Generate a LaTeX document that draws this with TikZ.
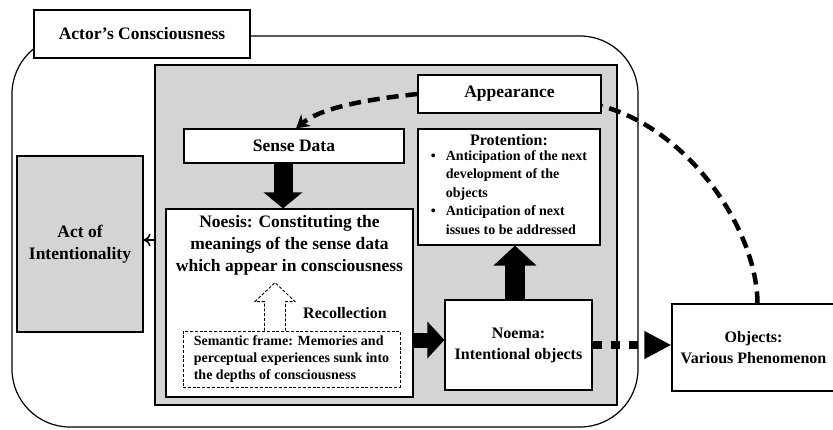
\documentclass[tikz,border=0pt]{standalone}
\usepackage{fontspec}
\setmainfont{Liberation Serif}
\usepackage{tikz}
\usetikzlibrary{arrows.meta,positioning}

\begin{document}
\begin{tikzpicture}[x=1pt,y=-1pt,
  box/.style={draw,line width=1.2pt,fill=white,align=center,inner sep=3pt},
  graybox/.style={draw,line width=1.2pt,fill=black!17,align=center},
  bigfont/.style={font=\fontsize{17.5}{22}\selectfont\bfseries},
  midfont/.style={font=\fontsize{16}{21}\selectfont\bfseries},
  smallfont/.style={font=\fontsize{14}{17}\selectfont\bfseries},
  thindash/.style={line width=0.9pt,dash pattern=on 3pt off 1.8pt},
  dashlink/.style={line width=4.5pt,dash pattern=on 12pt off 7pt}]
\useasboundingbox (0,0) rectangle (833,429);

% outer frame of the actor
\draw[line width=1.2pt,rounded corners=58pt] (12,36) rectangle (638,427);
\node[box,bigfont,minimum width=216,minimum height=48] (actor) at (142,34) {Actor's Consciousness};

\node[graybox,line width=2pt,minimum width=462,minimum height=340] (panel) at (386,235) {};
\node[graybox,bigfont,minimum width=126,minimum height=176] (act) at (80,244) {Act of\\Intentionality};

\node[box,bigfont,minimum width=183,minimum height=38] (appearance) at (509.5,94) {Appearance};
\node[box,bigfont,minimum width=220,minimum height=34] (sensedata) at (294,146) {Sense Data};
\node[box,smallfont,minimum width=182,minimum height=116] (protention) at (509,187)
  {{\fontsize{16}{18}\selectfont Protention:}\\[1pt]
   \setlength{\tabcolsep}{0pt}\renewcommand{\arraystretch}{1.08}%
   \begin{tabular}{l@{\hspace{10pt}}l}
   \textbullet & Anticipation of the next\\
    & development of the\\
    & objects\\
   \textbullet & Anticipation of next\\
    & issues to be addressed
   \end{tabular}};

% noesis with the semantic frame inside
\node[box,minimum width=247,minimum height=188] (noesis) at (289.5,303) {};
\node[bigfont,anchor=north,align=center] (noesistext) at ([yshift=-3pt]noesis.north)
  {Noesis: Constituting the\\meanings of the sense data\\which appear in consciousness};
\node[draw,thindash,smallfont,align=left,minimum width=217,minimum height=56,inner sep=3pt] (semantic) at (291.5,359)
  {Semantic frame: Memories and\\perceptual experiences sunk into\\the depths of consciousness};
\draw[thindash] ([xshift=-27pt]semantic.north) -- ++(0,-29) -- ++(-9.5,0) -- ++(20,-19)
  -- ++(20,19) -- ++(-9.5,0) -- ++(0,29);
\node[midfont] (recollection) at (345,313) {Recollection};

\node[box,midfont,minimum width=147,minimum height=90] (noema) at (518.5,345) {Noema:\\Intentional objects};
\node[box,midfont,minimum width=163,minimum height=87] (objects) at (753.5,347.5) {Objects:\\Various Phenomenon};

% arrows
\draw[line width=1.6pt,-{To[length=7pt,width=13pt]}] ([yshift=4pt]act.east -| panel.west) -- ([yshift=4pt]act.east);
\draw[line width=19pt,-{Triangle[length=16pt,width=38pt]}] ([xshift=-11pt]sensedata.south) -- ([xshift=-11pt]sensedata.south |- noesis.north);
\draw[line width=15pt,-{Triangle[length=17pt,width=36pt]}] ([yshift=5pt]noema.west -| noesis.east) -- ([yshift=5pt]noema.west);
\draw[line width=20pt,-{Triangle[length=20pt,width=42pt]}] ([xshift=-3.5pt]noema.north) -- ([xshift=-3.5pt]noema.north |- protention.south);
\draw[line width=8pt,dash pattern=on 9pt off 9pt,-{Triangle[length=27pt,width=26pt]}] (noema.east) -- (noema.east -| objects.west);
\draw[dashlink,-{Stealth[length=13pt,width=15pt]}] (appearance.west) .. controls (370,99) and (322,107) .. ([xshift=2pt]sensedata.north);
\draw[dashlink] ([xshift=4pt]objects.north) .. controls (757,230) and (690,130) .. ([yshift=-12pt]appearance.east);

\end{tikzpicture}
\end{document}
